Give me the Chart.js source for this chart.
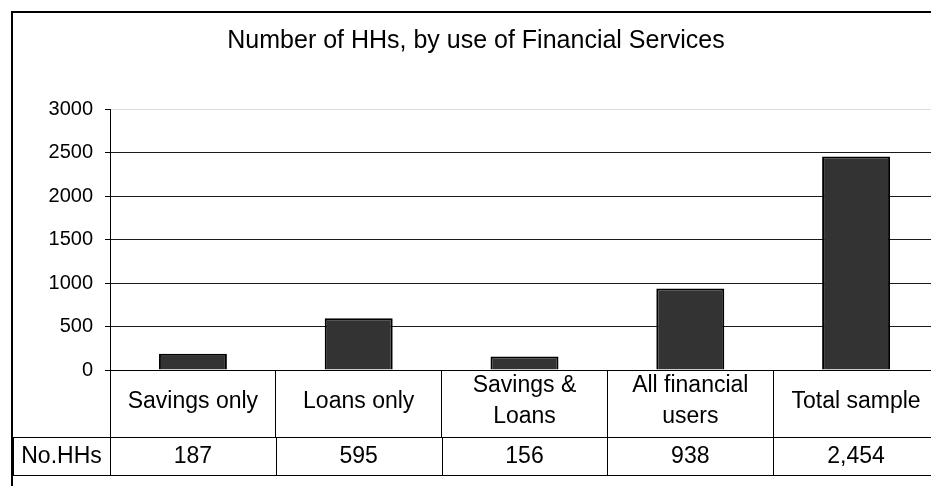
<!DOCTYPE html>
<html>
<head>
<meta charset="utf-8">
<script src="https://cdn.jsdelivr.net/npm/chart.js@4.4.1/dist/chart.umd.min.js"></script>
<style>
   html, body { margin: 0; padding: 0; background: #fff; overflow: hidden; }
   #frame {
      position: absolute; left: 11px; top: 11px;
      width: 1000px; height: 520px;
      border-top: 2px solid #000; border-left: 2px solid #000;
   }
   #hhChart { display: block; }
</style>
</head>
<body>
<div id="frame"><canvas id="hhChart" width="940" height="480"></canvas></div>
<script>
// chart data
const categories = [['Savings only'], ['Loans only'], ['Savings &', 'Loans'], ['All financial', 'users'], ['Total sample']];
const households = [187, 595, 156, 938, 2454];
const yTicks = [0, 500, 1000, 1500, 2000, 2500, 3000];
const rowLabel = 'No.HHs';
const chartTitle = 'Number of HHs, by use of Financial Services';

const fontFamily = '"Liberation Sans", Arial, sans-serif';

// draws the data table row (No.HHs) under the category labels
const dataTable = {
   id: 'dataTable',
   afterDraw(chart) {
      const ctx = chart.ctx;
      const x = chart.scales.x;
      const top = x.bottom;        // bottom of the category row
      const bottom = top + 38;
      const right = chart.width;
      ctx.save();
      ctx.strokeStyle = '#000';
      ctx.lineWidth = 1;
      ctx.beginPath();
      ctx.moveTo(0, top + 0.5); ctx.lineTo(right, top + 0.5);
      ctx.moveTo(0, bottom + 0.5); ctx.lineTo(right, bottom + 0.5);
      ctx.moveTo(0.5, top); ctx.lineTo(0.5, bottom);
      const colW = (x.right - x.left) / households.length;
      for (let i = 0; i <= households.length; i++) {
         const px = Math.round(x.left + i * colW) + 0.5;
         ctx.moveTo(px, top); ctx.lineTo(px, bottom);
      }
      ctx.stroke();

      ctx.fillStyle = '#000';
      ctx.font = '23px ' + fontFamily;
      ctx.textAlign = 'center';
      ctx.textBaseline = 'middle';
      const midY = (top + bottom) / 2 + 1;
      ctx.fillText(rowLabel, x.left / 2, midY);
      households.forEach((v, i) => {
         ctx.fillText(v.toLocaleString('en-US'), x.getPixelForValue(i), midY);
      });
      ctx.restore();
   }
};

const ctx = document.getElementById('hhChart').getContext('2d');
new Chart(ctx, {
   type: 'bar',
   data: {
      labels: categories,
      datasets: [{
         label: rowLabel,
         data: households,
         backgroundColor: '#333333',
         borderColor: '#000',
         borderWidth: 2,
         categoryPercentage: 1,
         barPercentage: 0.41
      }]
   },
   options: {
      responsive: false,
      animation: false,
      layout: { padding: { left: 0, right: 14, top: 0, bottom: 56 } },
      scales: {
         x: {
            afterFit: scale => { scale.height = 67; },
            grid: {
               offset: true,
               drawOnChartArea: false,
               tickLength: 67,
               color: '#000'
            },
            border: { color: '#000' },
            ticks: {
               autoSkip: false,
               maxRotation: 0,
               minRotation: 0,
               padding: -51,
               crossAlign: 'center',
               color: '#000',
               font: { family: fontFamily, size: 23, lineHeight: 1.32 }
            }
         },
         y: {
            min: 0,
            max: 3000,
            afterFit: scale => { scale.width = 97; },
            afterBuildTicks: scale => { scale.ticks = yTicks.map(v => ({ value: v })); },
            grid: {
               color: c => (c.tick && c.tick.value === 3000) ? '#dcdcdc' : '#1a1a1a',
               tickColor: '#000',
               tickLength: 5
            },
            border: { color: '#000' },
            ticks: {
               padding: 12,
               color: '#000',
               font: { family: fontFamily, size: 20 },
               callback: v => String(v)
            }
         }
      },
      plugins: {
         legend: { display: false },
         tooltip: { enabled: false },
         title: {
            display: true,
            text: chartTitle,
            color: '#000',
            font: { family: fontFamily, size: 25, weight: 'normal', lineHeight: 1.2 },
            padding: { top: 13, bottom: 53 }
         }
      }
   },
   plugins: [dataTable]
});
</script>
</body>
</html>
